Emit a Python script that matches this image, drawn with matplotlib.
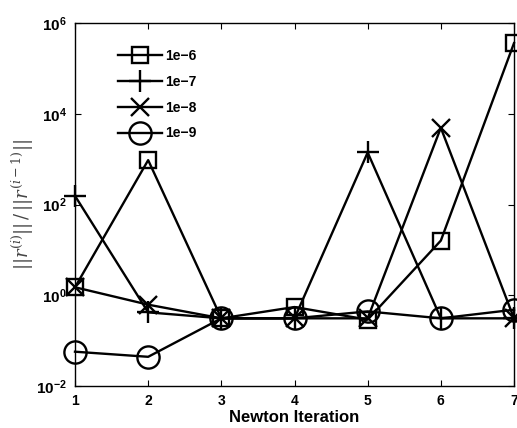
import numpy as np
import matplotlib.pyplot as plt

plt.rcParams['mathtext.fontset'] = 'custom'
plt.rcParams['mathtext.rm'] = 'DejaVu Serif'
plt.rcParams['mathtext.it'] = 'DejaVu Serif:italic'
plt.rcParams['mathtext.sf'] = 'Liberation Sans:bold'
plt.rcParams['font.family'] = 'Liberation Sans'

# data
iters = [1, 2, 3, 4, 5, 6, 7]
tol_labels = ['1e\u22126', '1e\u22127', '1e\u22128', '1e\u22129']
res_1e6 = [1.5, 950, 0.31, 0.55, 0.29, 16, 3.6e5]
res_1e7 = [155, 0.42, 0.31, 0.31, 1400, 0.31, 0.31]
res_1e8 = [1.5, 0.62, 0.31, 0.31, 0.31, 4900, 0.31]
res_1e9 = [0.057, 0.044, 0.31, 0.31, 0.44, 0.31, 0.48]
series = [res_1e6, res_1e7, res_1e8, res_1e9]
markers = ['s', '+', 'x', 'o']
msizes = [12, 16, 13, 16]

fig = plt.figure(figsize=(5.17, 4.28), dpi=100)
ax = fig.add_axes([75/517, 1 - 386/428, (514-75)/517, (386-23)/428])

for vals, mk, ms, lab in zip(series, markers, msizes, tol_labels):
    ax.plot(iters, vals, color='k', lw=1.7, marker=mk, ms=ms, mew=1.7,
            mfc='none', label=lab, clip_on=False)

ax.set_yscale('log')
ax.set_xlim(1, 7)
ax.set_ylim(1e-2, 1e6)
ax.set_xticks(iters)
ax.set_xticklabels([str(i) for i in iters], fontweight='bold', fontsize=10)
yt = [1e-2, 1e0, 1e2, 1e4, 1e6]
ax.set_yticks(yt)
ax.set_yticklabels([r'$\mathsf{10^{%d}}$' % int(np.log10(v)) for v in yt], fontsize=11)
ax.minorticks_off()
ax.tick_params(direction='in', length=4, width=0.8, top=True, right=True, pad=6)
for s in ax.spines.values():
    s.set_linewidth(1.0)

ax.set_xlabel('Newton Iteration', fontweight='bold', fontsize=12, labelpad=1)
ax.set_ylabel(r'$||r^{(i)}||\,/\,||r^{(i-1)}||$', fontsize=13, color='#444444', labelpad=0)

leg = ax.legend(loc='upper left', bbox_to_anchor=(0.075, 0.955), frameon=False,
                prop={'weight': 'bold', 'size': 10}, handlelength=3.2,
                handletextpad=0.25, labelspacing=0.85, borderaxespad=0.3)

fig.savefig('out.png', dpi=100)
